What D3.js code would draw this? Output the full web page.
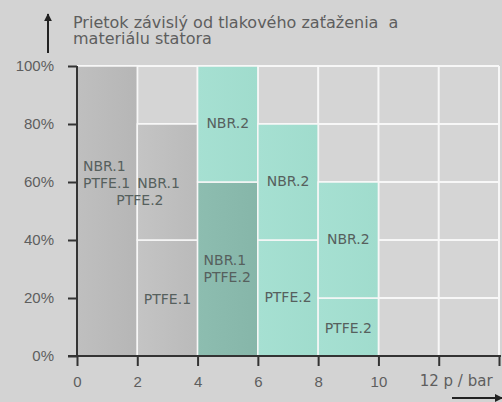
<!DOCTYPE html>
<html>
<head>
<meta charset="utf-8">
<script src="https://cdn.jsdelivr.net/npm/d3@7"></script>
<style>
  body { margin: 0; background: #d3d3d3; }
  svg { display: block; font-family: 'DejaVu Sans', sans-serif; }
  .tick text { fill: #5e5e5e; font-size: 15px; }
  .label { fill: #56605d; font-size: 14px; }
</style>
</head>
<body>
<div id="chart"></div>
<script>
const titleLines = ['Prietok závislý od tlakového zaťaženia  a', 'materiálu statora']
const xTicks = [0, 2, 4, 6, 8, 10, 12, 14]
const xTickLabels = ['0', '2', '4', '6', '8', '10', '', '']
const xUnit = '12 p / bar'
const yTicks = [0, 20, 40, 60, 80, 100]

// each stacked segment: bar start pressure, low %, high %, material, label
const segStart = [0, 2, 2, 4, 4, 6, 6, 8, 8]
const segLow = [0, 0, 40, 0, 60, 0, 40, 0, 20]
const segHigh = [100, 40, 80, 60, 100, 40, 80, 20, 60]
const segKind = ['nbr1', 'ptfe1', 'ptfe1', 'mix', 'nbr2', 'nbr2', 'nbr2', 'nbr2', 'nbr2']
const segLabel = [
  ['NBR.1', 'PTFE.1'],
  ['PTFE.1'],
  ['NBR.1', 'PTFE.2'],
  ['NBR.1', 'PTFE.2'],
  ['NBR.2'],
  ['PTFE.2'],
  ['NBR.2'],
  ['PTFE.2'],
  ['NBR.2'],
]
const barWidth = 2

const width = 502
const height = 402
const margin = { top: 66, right: 3, bottom: 46, left: 77 }

const x = d3.scaleLinear().domain([0, 14]).range([margin.left, width - margin.right])
const y = d3.scaleLinear().domain([0, 100]).range([height - margin.bottom, margin.top])

const svg = d3
  .select('#chart')
  .append('svg')
  .attr('width', width)
  .attr('height', height)

const defs = svg.append('defs')
const fills = {
  nbr1: ['#bfbfbf', '#b6b6b6'],
  ptfe1: ['#c4c4c4', '#bababa'],
  mix: ['#8dbdb0', '#86b6a9'],
  nbr2: ['#a6e0d2', '#a0dccd'],
}
Object.keys(fills).forEach(function(k) {
  const g = defs
    .append('linearGradient')
    .attr('id', 'g-' + k)
    .attr('x1', 0)
    .attr('x2', 1)
  g.append('stop').attr('offset', '0%').attr('stop-color', fills[k][0])
  g.append('stop').attr('offset', '100%').attr('stop-color', fills[k][1])
})

// plot background + white grid
svg
  .append('rect')
  .attr('x', x(0))
  .attr('y', y(100))
  .attr('width', x(14) - x(0))
  .attr('height', y(0) - y(100))
  .attr('fill', '#d5d5d5')

const grid = svg.append('g').attr('stroke', '#f7f7f7').attr('stroke-width', 2)
grid
  .selectAll('line.v')
  .data(xTicks.slice(1))
  .enter()
  .append('line')
  .attr('x1', d => x(d))
  .attr('x2', d => x(d))
  .attr('y1', y(100))
  .attr('y2', y(0))
grid
  .selectAll('line.h')
  .data(yTicks.slice(1))
  .enter()
  .append('line')
  .attr('x1', x(0))
  .attr('x2', x(14))
  .attr('y1', d => y(d))
  .attr('y2', d => y(d))

// segments
const segs = segStart.map(function(s, i) {
  return { start: s, low: segLow[i], high: segHigh[i], kind: segKind[i], label: segLabel[i], i: i }
})

svg
  .append('g')
  .selectAll('rect')
  .data(segs)
  .enter()
  .append('rect')
  .attr('x', d => x(d.start))
  .attr('y', d => y(d.high))
  .attr('width', d => x(d.start + barWidth) - x(d.start))
  .attr('height', d => y(d.low) - y(d.high))
  .attr('fill', d => 'url(#g-' + d.kind + ')')
  .attr('stroke', '#f7f7f7')
  .attr('stroke-width', 1.5)

// label placement tweaks (px), keyed by segment index
const labelNudge = {
  0: { anchor: 'start', dx: 6, dy: -36 },
  1: { dy: 2 },
  2: { anchor: 'start', dx: -21, dy: 10, lineDx: [21, 0] },
  3: { anchor: 'start', dx: 6, dy: 0 },
  7: { dy: 2 },
}

const labels = svg.append('g')
segs.forEach(function(d) {
  const n = labelNudge[d.i] || {}
  const anchor = n.anchor || 'middle'
  const cx = anchor === 'start' ? x(d.start) : x(d.start + barWidth / 2)
  const cy = y((d.low + d.high) / 2)
  const lh = 17
  const first = cy + 4 - ((d.label.length - 1) * lh) / 2 + (n.dy || 0)
  d.label.forEach(function(t, j) {
    labels
      .append('text')
      .attr('class', 'label')
      .attr('text-anchor', anchor)
      .attr('x', cx + (n.dx || 0) + (n.lineDx ? n.lineDx[j] : 0))
      .attr('y', first + j * lh)
      .text(t)
  })
})

// axes
const xAxis = d3
  .axisBottom(x)
  .tickValues(xTicks)
  .tickFormat((d, i) => xTickLabels[i])
  .tickSize(10)
  .tickPadding(10)
const gx = svg
  .append('g')
  .attr('transform', 'translate(0,' + y(0) + ')')
  .call(xAxis)
gx.select('.domain').remove()
gx.selectAll('.tick line').attr('stroke', '#333').attr('stroke-width', 2)

const yAxis = d3
  .axisLeft(y)
  .tickValues(yTicks)
  .tickFormat(d => d + '%')
  .tickSize(9)
  .tickPadding(14)
const gy = svg
  .append('g')
  .attr('transform', 'translate(' + x(0) + ',0)')
  .call(yAxis)
gy.select('.domain').remove()
gy.selectAll('.tick line').attr('stroke', '#333').attr('stroke-width', 2)

svg
  .append('line')
  .attr('x1', x(0))
  .attr('x2', x(0))
  .attr('y1', y(100))
  .attr('y2', y(0))
  .attr('stroke', '#333')
  .attr('stroke-width', 2)
svg
  .append('line')
  .attr('x1', x(0) - 9)
  .attr('x2', x(14) + 2)
  .attr('y1', y(0))
  .attr('y2', y(0))
  .attr('stroke', '#333')
  .attr('stroke-width', 2)

svg
  .append('text')
  .attr('x', x(12) - 19)
  .attr('y', y(0) + 30)
  .attr('fill', '#5e5e5e')
  .style('font-size', '15px')
  .text(xUnit)

// title
svg
  .append('g')
  .selectAll('text')
  .data(titleLines)
  .enter()
  .append('text')
  .attr('x', 73)
  .attr('y', (d, i) => 28 + i * 16)
  .attr('fill', '#5e5e5e')
  .style('font-size', '16px')
  .style('white-space', 'pre')
  .text(d => d)

// arrows
defs
  .append('marker')
  .attr('id', 'arrow')
  .attr('viewBox', '0 0 10 10')
  .attr('refX', 9)
  .attr('refY', 5)
  .attr('markerWidth', 4)
  .attr('markerHeight', 4)
  .attr('orient', 'auto')
  .append('path')
  .attr('d', 'M0,0L10,5L0,10Z')
  .attr('fill', '#222')

svg
  .append('line')
  .attr('x1', 48)
  .attr('x2', 48)
  .attr('y1', 53)
  .attr('y2', 14)
  .attr('stroke', '#222')
  .attr('stroke-width', 2)
  .attr('marker-end', 'url(#arrow)')
svg
  .append('line')
  .attr('x1', 452)
  .attr('x2', 502)
  .attr('y1', 398)
  .attr('y2', 398)
  .attr('stroke', '#222')
  .attr('stroke-width', 2)
  .attr('marker-end', 'url(#arrow)')
</script>
</body>
</html>
